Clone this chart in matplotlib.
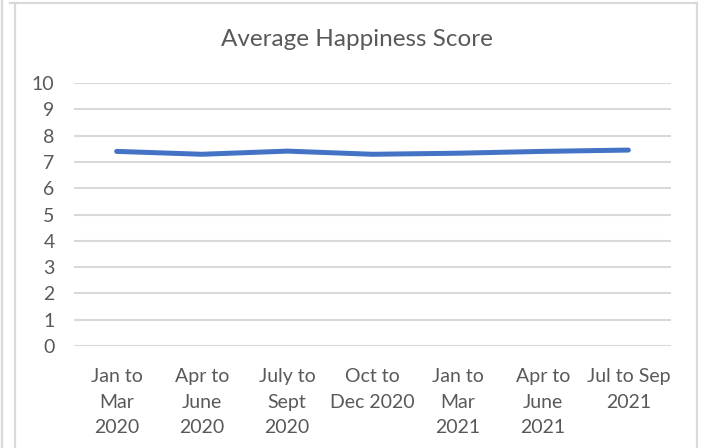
import matplotlib.pyplot as plt
from matplotlib.lines import Line2D

quarters = ['Jan to\nMar\n2020', 'Apr to\nJune\n2020', 'July to\nSept\n2020',
            'Oct to\nDec 2020', 'Jan to\nMar\n2021', 'Apr to\nJune\n2021',
            'Jul to Sep\n2021']
avg_score = [7.40, 7.29, 7.41, 7.29, 7.33, 7.40, 7.45]
y_ticks = list(range(0, 11))

plt.rcParams['font.family'] = ['Lato', 'DejaVu Sans']
text_col = '#595959'
grid_col = '#d9d9d9'

fig = plt.figure(figsize=(7.02, 4.48), dpi=100)
ax = fig.add_axes([74 / 702, 1 - 346 / 448, 597 / 702, 263 / 448])

x = range(len(quarters))
ax.plot(x, avg_score, color='#4472c4', linewidth=3.6,
        solid_capstyle='round', solid_joinstyle='round', zorder=3)

ax.set_xlim(-0.5, len(quarters) - 0.5)
ax.set_ylim(0, 10)
ax.set_yticks(y_ticks)
ax.set_xticks(list(x))
ax.set_xticklabels(quarters, linespacing=1.6)
ax.tick_params(axis='both', length=0, colors=text_col, labelsize=14)
ax.tick_params(axis='y', pad=14)
ax.tick_params(axis='x', pad=16)
ax.grid(axis='y', color=grid_col, linewidth=1.5)
ax.set_axisbelow(True)
for s in ax.spines.values():
    s.set_visible(False)

fig.text(357 / 702, 1 - 40 / 448, 'Average Happiness Score', ha='center',
         va='center', fontsize=17.5, color=text_col)

# chart frame
px = lambda v: v / 702
py = lambda v: 1 - v / 448
for xs, ys in [([2, 2], [0, 448]), ([15, 15], [3, 448]),
               ([697, 697], [3, 448]), ([10, 697], [3, 3])]:
    fig.add_artist(Line2D([px(v) for v in xs], [py(v) for v in ys],
                          color=grid_col, linewidth=1.6))

fig.savefig('out.png', dpi=100)
